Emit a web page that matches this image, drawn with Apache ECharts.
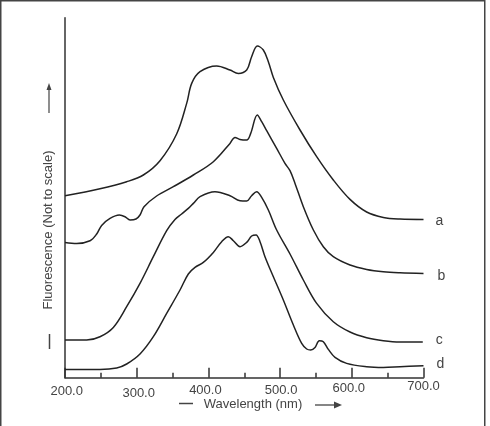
<!DOCTYPE html>
<html><head><meta charset="utf-8">
<script src="https://cdn.jsdelivr.net/npm/echarts@6/dist/echarts.min.js"></script>
<style>html,body{margin:0;padding:0;background:#fff}#c{width:490px;height:426px}</style>
</head><body><div id="c"></div>
<script>
// Wavelength (nm) vs fluorescence (arbitrary, not to scale)
const curveA = [[200,182],[248.8,189],[286,196],[309.3,202.7],[332.5,217],[355.7,243.7],[369.7,274.3],[376.7,294.3],[388.3,306],[411.5,311.7],[430.1,307.7],[441.7,304.3],[453.4,307.7],[460.3,321],[468.2,331.7],[476.6,327.7],[483.6,316],[490.6,300.3],[504.5,277.7],[527.8,247.7],[551,221],[574.2,197.7],[597.5,178.3],[620.7,165.7],[644,160.3],[667.2,158.7],[700,158.3]];
const curveB = [[200,135.3],[216.3,134.3],[234.9,137],[244.2,143.7],[251.1,152.3],[262.8,159.3],[275.8,162.7],[283.7,161],[290.7,157.7],[299,158.7],[304.6,162.7],[310.2,171],[327.8,181.7],[351.1,191],[379,202.7],[406.9,216],[430.1,234.3],[437.1,240.3],[444.1,238.3],[453.4,237.7],[459,244.3],[468.2,262.7],[474.3,256],[481.3,247],[495.2,229.3],[506.8,214.3],[513.8,207],[520.8,194.3],[532.4,171],[546.4,147.7],[560.3,131],[574.2,121],[597.5,112.7],[620.7,108.3],[644,106],[667.2,105],[700,104.3]];
const curveC = [[200,37.7],[230.2,37.7],[248.8,41],[267.4,50.3],[286,71],[304.6,94.3],[323.2,121],[341.8,147],[353.4,158.3],[362.7,163.7],[372,169.3],[379,174.3],[388.3,181],[409.2,186],[430.1,182],[444.1,177],[453.4,176.7],[460.3,182],[467.3,186],[474.3,180.3],[483.6,167.7],[495.2,147.7],[513.8,123.7],[532.4,97.7],[551,74.3],[574.2,56],[597.5,45.7],[620.7,40],[644,37],[667.2,35.7],[699,35.7]];
const curveD = [[200,8.3],[248.8,8.3],[272.1,9.7],[286,13.7],[304.6,23.7],[323.2,41],[341.8,64.3],[360.4,87.7],[372,103.7],[381.3,110.3],[392.9,115.3],[406.9,125.3],[418.5,136],[427.8,141],[434.8,137],[444.1,131],[453.4,135.3],[460.3,141.7],[466.4,142.7],[472,136],[478.9,121],[490.6,101],[504.5,77.7],[518.5,52.7],[530.1,34.3],[537.1,28.7],[542.7,27.7],[548.7,30.3],[554.7,37],[560.3,36],[567.3,28.3],[576.6,20.3],[592.8,14.3],[620.7,11],[644,10.3],[667.2,11],[700,12]];
const seriesNames = ['a','b','c','d'];
const tickLabels = ['200.0','300.0','400.0','500.0','600.0','700.0'];
const xTitle = 'Wavelength (nm)';
const yTitle = 'Fluorescence (Not to scale)';

const FONT = 'Liberation Sans, Arial, sans-serif';
const chart = echarts.init(document.getElementById('c'), null, {renderer:'canvas'});
const lineStyle = {color:'#222', width:1.5};
const endOffsets = [[0,1.5],[2,3],[1,-1.5],[1,-2]];
const datasets = [curveA, curveB, curveC, curveD];
// hand-lettered labels sit slightly unevenly: [top, right, bottom, left] padding per label
const labelPads = [[5.5,0,0,3.4],[6.8,0,0,4],[4.5,6,0,0],[3.8,0,0,2],[1.8,6,0,0],[0,0,0,0]];
const rich = {};
labelPads.forEach((p,i) => { rich['r'+i] = {padding:p, color:'#444', fontSize:13, fontFamily:FONT}; });

chart.setOption({
  animation:false,
  backgroundColor:'#fff',
  grid:{left:65, right:66.5, top:17.7, bottom:48.3},
  xAxis:[{
    type:'value', min:200, max:700, interval:50,
    axisLine:{lineStyle:{color:'#333', width:1.5}},
    axisTick:{inside:true, length:5, lineStyle:{color:'#333', width:1.5}},
    splitLine:{show:false},
    axisLabel:{
      margin:2, color:'#444', fontSize:13, fontFamily:FONT, rich:rich,
      formatter:v => { if (v % 100 !== 0) return ''; const k=(v-200)/100; return '{r'+k+'|'+tickLabels[k]+'}'; }
    }
  },{
    type:'value', min:200, max:700, interval:100, position:'bottom',
    axisLine:{show:false},
    axisTick:{inside:true, length:10, lineStyle:{color:'#333', width:1.5}},
    axisLabel:{show:false}, splitLine:{show:false}
  }],
  yAxis:{
    type:'value', min:0, max:360,
    axisLine:{show:true, lineStyle:{color:'#333', width:1.5}},
    axisTick:{show:false}, axisLabel:{show:false}, splitLine:{show:false}
  },
  series: datasets.map((d,i) => ({
    type:'line', name:seriesNames[i], data:d, smooth:0.35, showSymbol:false,
    lineStyle:lineStyle, silent:true,
    endLabel:{show:true, formatter:'{a}', distance:12, offset:endOffsets[i],
      color:'#444', fontSize:14, fontFamily:FONT}
  })),
  graphic:[
    {type:'rect', shape:{x:0.75, y:0.75, width:484, height:440}, style:{fill:'none', stroke:'#444', lineWidth:1.5}, silent:true},
    {type:'text', x:48, y:230, rotation:Math.PI/2, style:{text:yTitle, font:'13px '+FONT, fill:'#444', textAlign:'center', textVerticalAlign:'middle'}},
    {type:'line', shape:{x1:49, y1:113, x2:49, y2:87}, style:{stroke:'#444', lineWidth:1.2}},
    {type:'polygon', shape:{points:[[49,83],[46.5,90],[51.5,90]]}, style:{fill:'#444'}},
    {type:'line', shape:{x1:49.5, y1:334, x2:49.5, y2:349}, style:{stroke:'#444', lineWidth:1.5}},
    {type:'text', x:253, y:404, style:{text:xTitle, font:'13px '+FONT, fill:'#444', textAlign:'center', textVerticalAlign:'middle'}},
    {type:'line', shape:{x1:179, y1:403.5, x2:193, y2:403.5}, style:{stroke:'#444', lineWidth:1.5}},
    {type:'line', shape:{x1:315, y1:405, x2:337, y2:405}, style:{stroke:'#444', lineWidth:1.3}},
    {type:'polygon', shape:{points:[[342,405],[334,401.5],[334,408.5]]}, style:{fill:'#444'}}
  ]
});
</script></body></html>
